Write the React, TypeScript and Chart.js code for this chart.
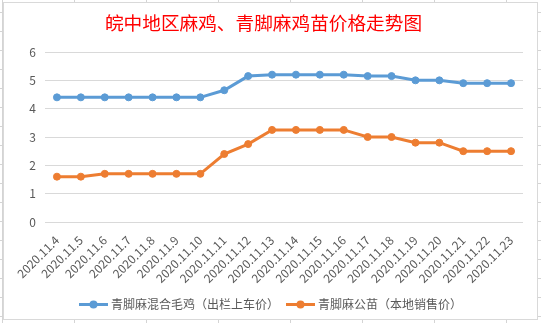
import React, { useEffect, useRef } from "react";
import { Chart, registerables } from "chart.js";

Chart.register(...registerables);

const chartTitle = "皖中地区麻鸡、青脚麻鸡苗价格走势图";
const categories = [
  "2020.11.4", "2020.11.5", "2020.11.6", "2020.11.7", "2020.11.8",
  "2020.11.9", "2020.11.10", "2020.11.11", "2020.11.12", "2020.11.13",
  "2020.11.14", "2020.11.15", "2020.11.16", "2020.11.17", "2020.11.18",
  "2020.11.19", "2020.11.20", "2020.11.21", "2020.11.22", "2020.11.23",
];
const seriesNames = ["青脚麻混合毛鸡（出栏上车价）", "青脚麻公苗（本地销售价）"];
const mixedChickenPrice = [
  4.4, 4.4, 4.4, 4.4, 4.4, 4.4, 4.4, 4.65, 5.15, 5.2,
  5.2, 5.2, 5.2, 5.15, 5.15, 5.0, 5.0, 4.9, 4.9, 4.9,
];
const maleChickPrice = [
  1.6, 1.6, 1.7, 1.7, 1.7, 1.7, 1.7, 2.4, 2.75, 3.25,
  3.25, 3.25, 3.25, 3.0, 3.0, 2.8, 2.8, 2.5, 2.5, 2.5,
];
const yMin = 0;
const yMax = 6;
const yStep = 1;

const seriesColors = ["#5B9BD5", "#ED7D31"];
const FONT = "'Noto Sans CJK SC', 'Noto Sans', sans-serif";

const lineLegend = {
  id: "lineLegend",
  afterDraw(chart: any) {
    const ctx = chart.ctx as CanvasRenderingContext2D;
    ctx.save();
    ctx.font = `12px ${FONT}`;
    const lineW = 29;
    const gapText = 3;
    const gapItem = 7;
    const items = chart.data.datasets.map((ds: any) => ({
      text: ds.label as string,
      color: ds.borderColor as string,
      w: ctx.measureText(ds.label).width,
    }));
    let total = 0;
    items.forEach((it: any, i: number) => {
      total += lineW + gapText + it.w + (i > 0 ? gapItem : 0);
    });
    let x = chart.width / 2 - total / 2;
    const y = 301.5;
    items.forEach((it: any) => {
      ctx.strokeStyle = it.color;
      ctx.lineWidth = 3;
      ctx.beginPath();
      ctx.moveTo(x, y);
      ctx.lineTo(x + lineW, y);
      ctx.stroke();
      ctx.fillStyle = it.color;
      ctx.beginPath();
      ctx.arc(x + lineW / 2, y, 4, 0, Math.PI * 2);
      ctx.fill();
      ctx.fillStyle = "#595959";
      ctx.textBaseline = "middle";
      ctx.textAlign = "left";
      ctx.fillText(it.text, x + lineW + gapText, y);
      x += lineW + gapText + it.w + gapItem;
    });
    ctx.restore();
  },
};

export default function App() {
  const ref = useRef<HTMLCanvasElement | null>(null);

  useEffect(() => {
    document.body.style.margin = "0";
    const canvas = ref.current;
    if (!canvas) return;
    const chart = new Chart(canvas, {
      type: "line",
      data: {
        labels: categories,
        datasets: [
          {
            label: seriesNames[0],
            data: mixedChickenPrice,
            borderColor: seriesColors[0],
            backgroundColor: seriesColors[0],
            pointBackgroundColor: seriesColors[0],
            pointBorderColor: seriesColors[0],
            borderWidth: 3,
            pointRadius: 3.5,
            pointBorderWidth: 1,
            tension: 0,
          },
          {
            label: seriesNames[1],
            data: maleChickPrice,
            borderColor: seriesColors[1],
            backgroundColor: seriesColors[1],
            pointBackgroundColor: seriesColors[1],
            pointBorderColor: seriesColors[1],
            borderWidth: 3,
            pointRadius: 3.5,
            pointBorderWidth: 1,
            tension: 0,
          },
        ],
      },
      options: {
        responsive: false,
        animation: false,
        devicePixelRatio: 1,
        layout: { padding: { top: 0, left: 0, right: 14, bottom: 0 } },
        plugins: {
          legend: { display: false },
          tooltip: { enabled: false },
          title: {
            display: true,
            text: chartTitle,
            color: "#FF0000",
            font: { family: FONT, size: 18.67, weight: "normal", lineHeight: 1.2 },
            padding: { top: 8.8, bottom: 17.8 },
          },
        },
        scales: {
          x: {
            offset: true,
            grid: { display: false, drawTicks: false },
            border: { display: false },
            ticks: {
              color: "#595959",
              font: { family: FONT, size: 12 },
              minRotation: 45,
              maxRotation: 45,
              autoSkip: false,
              padding: 11,
            },
            afterFit: (s: any) => {
              s.height = 97;
            },
          },
          y: {
            min: yMin,
            max: yMax,
            grid: { color: "#D9D9D9", lineWidth: 1, drawTicks: false },
            border: { display: false },
            ticks: {
              stepSize: yStep,
              color: "#595959",
              font: { family: FONT, size: 12 },
              padding: 9,
            },
            afterFit: (s: any) => {
              s.width = 41;
            },
          },
        },
      },
      plugins: [lineLegend],
    });
    return () => chart.destroy();
  }, []);

  return (
    <div
      style={{
        position: "fixed",
        left: 0,
        top: 0,
        width: 541,
        height: 323,
        overflow: "hidden",
        backgroundColor: "#fff",
        backgroundImage:
          "linear-gradient(to bottom, #D4D4D4 1px, transparent 1px), linear-gradient(to right, #D4D4D4 1px, transparent 1px)",
        backgroundSize: "100% 19px, 72px 100%",
        backgroundPosition: "0 12px, 2px 0",
      }}
    >
      <div
        style={{
          position: "absolute",
          left: 3,
          top: 2,
          width: 535,
          height: 318,
          boxSizing: "border-box",
          border: "1px solid #D9D9D9",
          background: "#fff",
        }}
      >
        <canvas ref={ref} width={533} height={316} style={{ display: "block", width: 533, height: 316 }} />
      </div>
    </div>
  );
}
